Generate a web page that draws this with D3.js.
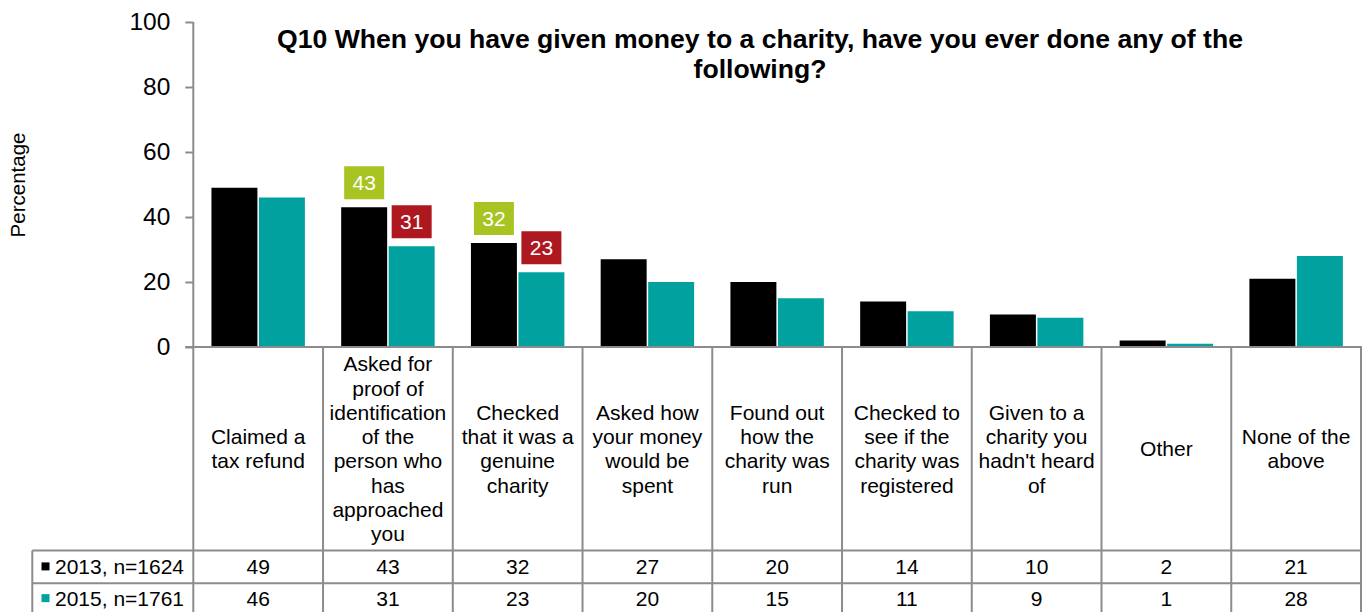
<!DOCTYPE html>
<html>
<head>
<meta charset="utf-8">
<script src="https://cdn.jsdelivr.net/npm/d3@7"></script>
<style>
  html, body { margin: 0; padding: 0; background: #fff; }
  svg { display: block; font-family: "Liberation Sans", Arial, sans-serif; }
</style>
</head>
<body>
<svg id="chart" width="1366" height="612"></svg>
<script>
// Survey responses, percentage of donors
const categories = [
  "Claimed a tax refund",
  "Asked for proof of identification of the person who has approached you",
  "Checked that it was a genuine charity",
  "Asked how your money would be spent",
  "Found out how the charity was run",
  "Checked to see if the charity was registered",
  "Given to a charity you hadn't heard of",
  "Other",
  "None of the above"
];
// Wrapped lines for the category header cells
const categoryLines = [
  ["Claimed a", "tax refund"],
  ["Asked for", "proof of", "identification", "of the", "person who", "has", "approached", "you"],
  ["Checked", "that it was a", "genuine", "charity"],
  ["Asked how", "your money", "would be", "spent"],
  ["Found out", "how the", "charity was", "run"],
  ["Checked to", "see if the", "charity was", "registered"],
  ["Given to a", "charity you", "hadn't heard", "of"],
  ["Other"],
  ["None of the", "above"]
];
const seriesNames = ["2013, n=1624", "2015, n=1761"];
const values2013 = [49, 43, 32, 27, 20, 14, 10, 2, 21];
const values2015 = [46, 31, 23, 20, 15, 11, 9, 1, 28];
// Significant changes called out above the bars
const flaggedCategories = [
  "Asked for proof of identification of the person who has approached you",
  "Checked that it was a genuine charity"
];
const yTicks = [0, 20, 40, 60, 80, 100];
const titleLines = [
  "Q10 When you have given money to a charity, have you ever done any of the",
  "following?"
];

const colors = { s2013: "#000000", s2015: "#00a19f", up: "#a8c423", down: "#ae1820", grid: "#8c8c8c" };

const svg = d3.select("#chart");
const plotLeft = 193.3, plotRight = 1361, plotTop = 22, plotBase = 347;
const headerBottom = 550.5, row1Bottom = 583.3, row2Bottom = 616, legendLeft = 32.3;

const x0 = d3.scaleBand().domain(categories).range([plotLeft, plotRight]).padding(0);
const x1 = d3.scaleBand().domain(["2013", "2015"]).range([0, x0.bandwidth()])
  .paddingInner(0.032).paddingOuter(0.382);
const y = d3.scaleLinear().domain([0, 100]).range([plotBase, plotTop]);

const rows = categories.map((c, i) => ({ cat: c, v2013: values2013[i], v2015: values2015[i] }));

// Title
svg.append("g").selectAll("text").data(titleLines).join("text")
  .attr("x", 760).attr("y", (d, i) => 48 + i * 29.5)
  .attr("text-anchor", "middle")
  .attr("font-size", 26.6).attr("font-weight", "bold").attr("fill", "#000")
  .text(d => d);

// Y axis title
svg.append("text")
  .attr("transform", "translate(25,185) rotate(-90)")
  .attr("text-anchor", "middle")
  .attr("font-size", 20.5).attr("fill", "#000")
  .text("Percentage");

// Bars
const groups = svg.append("g").selectAll("g").data(rows).join("g")
  .attr("transform", d => `translate(${x0(d.cat)},0)`);
groups.append("rect")
  .attr("x", x1("2013")).attr("width", x1.bandwidth())
  .attr("y", d => y(d.v2013)).attr("height", d => plotBase - y(d.v2013))
  .attr("fill", colors.s2013);
groups.append("rect")
  .attr("x", x1("2015")).attr("width", x1.bandwidth())
  .attr("y", d => y(d.v2015)).attr("height", d => plotBase - y(d.v2015))
  .attr("fill", colors.s2015);

// Change callouts
const flagged = rows.filter(d => flaggedCategories.includes(d.cat));
const boxW = 40, boxH = 33, boxGap = 8;
const callouts = [];
flagged.forEach(d => {
  callouts.push({ cx: x0(d.cat) + x1("2013") + x1.bandwidth() / 2, v: d.v2013, color: colors.up });
  callouts.push({ cx: x0(d.cat) + x1("2015") + x1.bandwidth() / 2, v: d.v2015, color: colors.down });
});
const cg = svg.append("g").selectAll("g").data(callouts).join("g")
  .attr("transform", d => `translate(${d.cx},${y(d.v) - boxGap - boxH})`);
cg.append("rect").attr("x", -boxW / 2).attr("width", boxW).attr("height", boxH).attr("fill", d => d.color);
cg.append("text").attr("y", boxH / 2).attr("dy", "0.36em").attr("text-anchor", "middle")
  .attr("font-size", 21).attr("fill", "#fff").text(d => d.v);

// Y axis
const yAxis = d3.axisLeft(y).tickValues(yTicks).tickSize(8).tickPadding(15);
const ya = svg.append("g").attr("transform", `translate(${plotLeft},0)`).call(yAxis);
ya.select(".domain").remove();
ya.selectAll(".tick line").attr("stroke", colors.grid).attr("stroke-width", 2);
ya.selectAll(".tick text").attr("font-size", 24.5).attr("fill", "#000")
  .attr("font-family", "'Liberation Sans', Arial, sans-serif");

// Data table grid
const grid = svg.append("g").attr("stroke", colors.grid).attr("stroke-width", 2).attr("fill", "none");
grid.append("line").attr("x1", plotLeft).attr("x2", plotLeft).attr("y1", plotTop).attr("y2", row2Bottom);
grid.append("line").attr("x1", plotLeft - 8).attr("x2", plotRight + 1).attr("y1", plotBase).attr("y2", plotBase);
categories.forEach(c => {
  const xr = x0(c) + x0.bandwidth();
  grid.append("line").attr("x1", xr).attr("x2", xr).attr("y1", plotBase).attr("y2", row2Bottom);
});
[headerBottom, row1Bottom, row2Bottom].forEach(yy => {
  grid.append("line").attr("x1", legendLeft).attr("x2", plotRight + 1).attr("y1", yy).attr("y2", yy);
});
grid.append("line").attr("x1", legendLeft).attr("x2", legendLeft).attr("y1", headerBottom).attr("y2", row2Bottom);

// Category header text
const lineH = 24.3;
const headerMid = (plotBase + headerBottom) / 2;
svg.append("g").selectAll("text").data(categories).join("text")
  .attr("text-anchor", "middle").attr("font-size", 21).attr("fill", "#000")
  .each(function (c, i) {
    const lines = categoryLines[i];
    const cx = x0(c) + x0.bandwidth() / 2;
    const y0 = headerMid - (lines.length - 1) * lineH / 2;
    d3.select(this).selectAll("tspan").data(lines).join("tspan")
      .attr("x", cx).attr("y", (d, k) => y0 + k * lineH).attr("dy", "0.36em").text(d => d);
  });

// Table rows: legend keys and values
const tableRows = [
  { name: seriesNames[0], color: colors.s2013, vals: values2013, mid: (headerBottom + row1Bottom) / 2 },
  { name: seriesNames[1], color: colors.s2015, vals: values2015, mid: (row1Bottom + row2Bottom) / 2 - 1 }
];
const tr = svg.append("g").selectAll("g").data(tableRows).join("g");
tr.append("rect").attr("x", 41.5).attr("y", d => d.mid - 4.5).attr("width", 8).attr("height", 8).attr("fill", d => d.color);
tr.append("text").attr("x", 55).attr("y", d => d.mid).attr("dy", "0.36em")
  .attr("font-size", 21).attr("fill", "#000").text(d => d.name);
tr.each(function (r) {
  d3.select(this).selectAll("text.val").data(r.vals).join("text").attr("class", "val")
    .attr("x", (v, i) => x0(categories[i]) + x0.bandwidth() / 2)
    .attr("y", r.mid).attr("dy", "0.36em").attr("text-anchor", "middle")
    .attr("font-size", 21).attr("fill", "#000").text(v => v);
});
</script>
</body>
</html>
